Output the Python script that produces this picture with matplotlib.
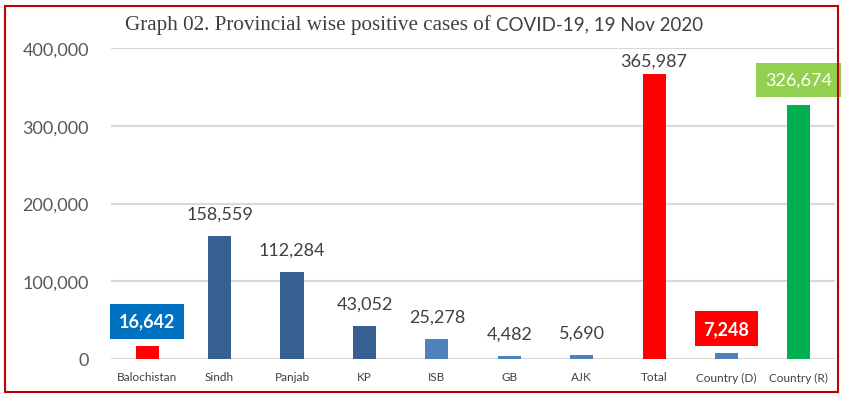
import matplotlib.pyplot as plt
from matplotlib.patches import Rectangle
from matplotlib.ticker import FuncFormatter

regions = ["Balochistan", "Sindh", "Panjab", "KP", "ISB", "GB", "AJK",
           "Total", "Country (D)", "Country (R)"]
cases = [16642, 158559, 112284, 43052, 25278, 4482, 5690, 365987, 7248, 326674]
bar_colors = ["#FF0000", "#375F92", "#375F92", "#375F92", "#4F81BD", "#4F81BD",
              "#4F81BD", "#FF0000", "#4F81BD", "#00B050"]
# labels drawn in a coloured box: index -> (box colour, bold)
boxed = {0: ("#0070C0", True), 8: ("#FF0000", True), 9: ("#92D050", False)}

plt.rcParams['font.family'] = ['Lato', 'DejaVu Sans']

fig = plt.figure(figsize=(8.41, 4.02), dpi=100)
ax = fig.add_axes([0.132, 0.1045, 0.861, 0.7735])

x = range(len(regions))
ax.bar(x, cases, width=0.32, color=bar_colors, zorder=3)

for i, v in enumerate(cases):
    txt = f"{v:,}"
    if i in boxed:
        col, bold = boxed[i]
        ax.annotate(txt, (i, v), xytext=(0, 18), textcoords="offset points",
                    ha="center", va="center", fontsize=13, color="white",
                    fontweight="bold" if bold else "normal", zorder=5,
                    bbox=dict(boxstyle="square,pad=0.5", fc=col, ec="none"))
    else:
        dy = 10 if regions[i] == "Total" else 16
        ax.annotate(txt, (i, v), xytext=(0, dy), textcoords="offset points",
                    ha="center", va="center", fontsize=13, color="#404040")

ax.set_xlim(-0.5, len(regions) - 0.5)
ax.set_ylim(0, 400000)
ax.set_yticks([0, 100000, 200000, 300000, 400000])
ax.yaxis.set_major_formatter(FuncFormatter(lambda v, p: f"{int(v):,}"))
ax.set_xticks(list(x))
ax.set_xticklabels(regions)
ax.tick_params(axis="y", length=0, pad=16, labelsize=13, labelcolor="#595959")
ax.tick_params(axis="x", length=0, pad=9, labelsize=8.5, labelcolor="#404040")
ax.grid(axis="y", color="#D9D9D9", linewidth=1.5, zorder=0)
for s in ax.spines.values():
    s.set_visible(False)

# title: serif part followed by sans part
t1 = fig.text(0.149, 0.937, "Graph 02. Provincial wise positive cases of ",
              family="Liberation Serif", fontsize=15.2, color="#404040",
              va="center")
fig.canvas.draw()
bb = t1.get_window_extent()
fig.text(bb.x1 / fig.bbox.width, 0.937, "COVID-19, 19 Nov 2020",
         fontsize=13.5, color="#404040", va="center")

fig.patches.append(Rectangle((0.006, 0.022), 0.991, 0.96, transform=fig.transFigure,
                             fill=False, ec="#C00000", lw=1.5))

fig.savefig("out.png", dpi=100)
